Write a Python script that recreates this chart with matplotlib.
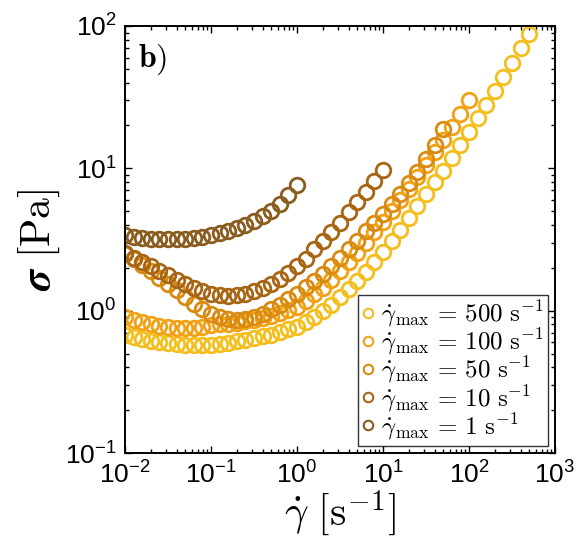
import numpy as np
import matplotlib
matplotlib.use('Agg')
import matplotlib.pyplot as plt
from matplotlib.ticker import LogLocator, NullFormatter

plt.rcParams['font.family'] = ['Liberation Sans', 'DejaVu Sans']
plt.rcParams['mathtext.fontset'] = 'custom'
plt.rcParams['mathtext.rm'] = 'Liberation Sans'
plt.rcParams['mathtext.it'] = 'Liberation Sans:italic'
plt.rcParams['mathtext.bf'] = 'Liberation Sans:bold'

# shear-rate grid, 10 points per decade [1/s]
rates = [0.01, 0.0126, 0.0158, 0.02, 0.0251, 0.0316, 0.0398, 0.0501, 0.0631, 0.0794,
         0.1, 0.126, 0.158, 0.2, 0.251, 0.316, 0.398, 0.501, 0.631, 0.794,
         1.0, 1.26, 1.58, 2.0, 2.51, 3.16, 3.98, 5.01, 6.31, 7.94,
         10.0, 12.6, 15.8, 20.0, 25.1, 31.6, 39.8, 50.1, 63.1, 79.4,
         100.0, 126.0, 158.0, 200.0, 251.0, 316.0, 398.0, 501.0]

# stress [Pa] for each maximum shear rate of the ramp
sigma_500 = [0.68, 0.65, 0.63, 0.61, 0.60, 0.59, 0.58, 0.57, 0.57, 0.57,
             0.57, 0.58, 0.59, 0.61, 0.62, 0.64, 0.66, 0.68, 0.71, 0.74,
             0.77, 0.83, 0.90, 0.99, 1.10, 1.25, 1.42, 1.62, 1.88, 2.20,
             2.60, 3.10, 3.70, 4.50, 5.40, 6.60, 8.00, 9.60, 11.8, 14.5,
             18.0, 22.5, 28.0, 35.0, 44.0, 55.0, 70.0, 88.0]
sigma_100 = [0.90, 0.86, 0.83, 0.80, 0.78, 0.77, 0.76, 0.76, 0.76, 0.77,
             0.79, 0.80, 0.81, 0.82, 0.84, 0.86, 0.89, 0.92, 0.96, 1.01,
             1.07, 1.17, 1.30, 1.45, 1.65, 1.90, 2.20, 2.55, 3.00, 3.55,
             4.20, 5.00, 6.00, 7.20, 8.70, 10.6, 13.0, 15.9, 19.6, 24.2,
             30.0]
sigma_50 = [2.50, 2.30, 2.10, 1.90, 1.70, 1.55, 1.40, 1.25, 1.12, 1.02,
            0.95, 0.90, 0.87, 0.86, 0.87, 0.90, 0.95, 1.02, 1.10, 1.20,
            1.32, 1.46, 1.62, 1.82, 2.05, 2.35, 2.70, 3.10, 3.60, 4.15,
            4.80, 5.60, 6.60, 7.90, 9.50, 11.6, 14.6, 19.0]
sigma_10 = [2.55, 2.35, 2.20, 2.05, 1.90, 1.78, 1.65, 1.55, 1.45, 1.38,
            1.32, 1.28, 1.27, 1.28, 1.32, 1.38, 1.45, 1.55, 1.68, 1.85,
            2.05, 2.30, 2.70, 3.10, 3.55, 4.10, 4.90, 5.80, 6.80, 8.10,
            9.70]
sigma_1 = [3.40, 3.30, 3.25, 3.20, 3.20, 3.20, 3.20, 3.20, 3.25, 3.30,
           3.40, 3.50, 3.60, 3.80, 4.00, 4.30, 4.60, 5.00, 5.60, 6.50,
           7.60]

series = [
    (sigma_500, '#F4BE1C', '500'),
    (sigma_100, '#F2A114', '100'),
    (sigma_50, '#D98A10', '50'),
    (sigma_10, '#A86614', '10'),
    (sigma_1, '#8A5C1E', '1'),
]

fig = plt.figure(figsize=(5.77, 5.52), dpi=100)
ax = fig.add_axes([0.2166, 0.1793, 0.7453, 0.7736])

for sig, col, lab in series:
    ax.plot(rates[:len(sig)], sig, linestyle='none', marker='o',
            markersize=10.5, markerfacecolor='none', markeredgecolor=col,
            markeredgewidth=2.0,
            label=r'$\dot{\gamma}_{\mathrm{max}}\,=\,%s\ \mathrm{s}^{-1}$' % lab)

ax.set_xscale('log')
ax.set_yscale('log')
ax.set_xlim(1e-2, 1e3)
ax.set_ylim(1e-1, 1e2)

ax.xaxis.set_major_locator(LogLocator(base=10, numticks=10))
ax.yaxis.set_major_locator(LogLocator(base=10, numticks=10))
ax.xaxis.set_minor_locator(LogLocator(base=10, subs=np.arange(2, 10), numticks=20))
ax.yaxis.set_minor_locator(LogLocator(base=10, subs=np.arange(2, 10), numticks=20))
ax.xaxis.set_minor_formatter(NullFormatter())
ax.yaxis.set_minor_formatter(NullFormatter())

ax.tick_params(which='both', direction='in', top=True, right=True, width=1.0)
ax.tick_params(which='major', length=5, labelsize=19, pad=6)
ax.tick_params(which='minor', length=3)
for s in ax.spines.values():
    s.set_linewidth(1.4)

ax.set_xlabel(r'$\dot{\gamma}\ [\mathrm{s}^{-1}]$', fontsize=30,
              math_fontfamily='cm', labelpad=0)
ax.set_ylabel(r'$\boldsymbol{\sigma}\ [\mathrm{Pa}]$', fontsize=30,
              math_fontfamily='cm', labelpad=2)

ax.text(0.03, 0.962, r'$\mathbf{b)}$', transform=ax.transAxes, fontsize=23,
        math_fontfamily='cm', va='top', ha='left')

leg = ax.legend(loc='lower right', fontsize=18, frameon=True, fancybox=False,
                edgecolor='black', handlelength=0.5, handletextpad=0.3,
                borderpad=0.15, labelspacing=-0.1, borderaxespad=0.3,
                markerscale=0.65)
leg.get_frame().set_linewidth(1.0)
for t in leg.get_texts():
    t.set_math_fontfamily('cm')
for h in leg.legend_handles:
    h.set_markeredgewidth(1.5)

fig.savefig('out.png', dpi=100)
